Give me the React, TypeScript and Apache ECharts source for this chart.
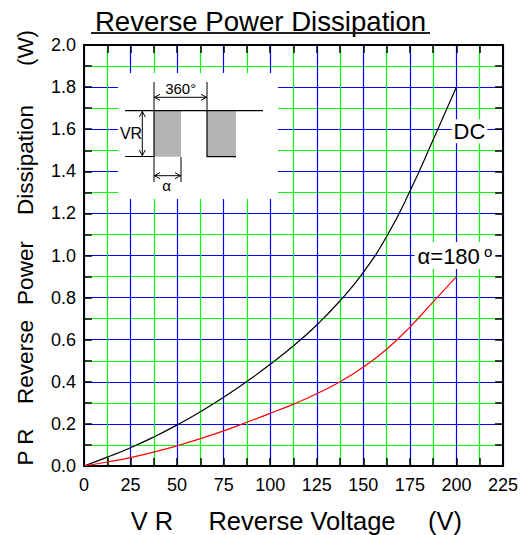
import React, { useEffect, useRef } from "react";
import * as echarts from "echarts";

const voltage = [0, 12.5, 25, 37.5, 50, 62.5, 75, 87.5, 100, 112.5, 125, 137.5, 150, 162.5, 175, 187.5, 200];
const dcPower = [0, 0.042, 0.087, 0.138, 0.195, 0.258, 0.327, 0.402, 0.483, 0.571, 0.67, 0.785, 0.92, 1.09, 1.305, 1.55, 1.8];
const halfPower = [0, 0.019, 0.04, 0.066, 0.096, 0.13, 0.167, 0.208, 0.25, 0.294, 0.343, 0.4, 0.47, 0.555, 0.66, 0.78, 0.9];
const yNameWords = ["P R", "Reverse", "Power", "Dissipation", "(W)"];
const xNameWords = ["V R", "Reverse Voltage", "(V)"];

const FONT = "'Liberation Sans', Arial, sans-serif";
const BLUE = "#0000ff";
const GREEN = "#00ff00";
const GRAY = "#b3b3b3";

export default function App() {
  const ref = useRef<HTMLDivElement>(null);
  useEffect(() => {
    if (!ref.current) return;
    const chart = echarts.init(ref.current, null, { renderer: "svg" });
    const yNameCenters = [447, 362, 273, 160, 48];
    const xNameCenters = [152, 302, 445];
    const L = (pts: number[][], w = 1.2) => ({
      type: "polyline",
      z: 12,
      shape: { points: pts },
      style: { stroke: "#000", lineWidth: w, fill: null },
    });
    const inset: any[] = [
      { type: "rect", z: 10, shape: { x: 118, y: 73, width: 160, height: 126 }, style: { fill: "#fff" } },
      L([[125, 110.7], [263, 110.7]]),
      { type: "rect", z: 11, shape: { x: 154, y: 110.7, width: 27, height: 46 }, style: { fill: GRAY } },
      { type: "rect", z: 11, shape: { x: 207, y: 110.7, width: 29, height: 46 }, style: { fill: GRAY } },
      L([[125, 156.5], [154, 156.5], [154, 110.7]]),
      L([[207, 110.7], [207, 156.7], [236, 156.7]]),
      L([[154, 82], [154, 110]], 1),
      L([[207, 82], [207, 110]], 1),
      L([[154, 97.3], [207, 97.3]], 1),
      L([[160, 94.3], [154.5, 97.3], [160, 100.3]], 1),
      L([[201, 94.3], [206.5, 97.3], [201, 100.3]], 1),
      L([[142.3, 111], [142.3, 156]], 1),
      L([[139.3, 117], [142.3, 111.5], [145.3, 117]], 1),
      L([[139.3, 150], [142.3, 155.5], [145.3, 150]], 1),
      L([[154, 157], [154, 182]], 1),
      L([[181, 157], [181, 182]], 1),
      L([[154, 175.7], [181, 175.7]], 1),
      L([[160, 172.7], [154.5, 175.7], [160, 178.7]], 1),
      L([[175, 172.7], [180.5, 175.7], [175, 178.7]], 1),
      { type: "text", z: 12, x: 180.7, y: 88, style: { text: "360°", fontSize: 15, fontFamily: FONT, fill: "#000", align: "center", verticalAlign: "middle" } },
      { type: "text", z: 12, x: 131, y: 133, style: { text: "VR", fontSize: 16, fontFamily: FONT, fill: "#000", align: "center", verticalAlign: "middle" } },
      { type: "text", z: 12, x: 166.7, y: 185, style: { text: "α", fontSize: 15, fontFamily: FONT, fill: "#000", align: "center", verticalAlign: "middle" } },
    ];
    const texts: any[] = [
      { type: "text", z: 12, x: 260.5, y: 21, style: { text: "Reverse Power Dissipation", fontSize: 27.6, fontFamily: FONT, fill: "#000", align: "center", verticalAlign: "middle" } },
      { type: "line", z: 12, shape: { x1: 91, y1: 33, x2: 430, y2: 33 }, style: { stroke: "#222", lineWidth: 2 } },
      ...yNameWords.map((w, i) => ({
        type: "text", z: 12, x: 25, y: yNameCenters[i], rotation: Math.PI / 2,
        style: { text: w, fontSize: 22.5, fontFamily: FONT, fill: "#000", align: "center", verticalAlign: "middle" },
      })),
      ...xNameWords.map((w, i) => ({
        type: "text", z: 12, x: xNameCenters[i], y: 521,
        style: { text: w, fontSize: 25.5, fontFamily: FONT, fill: "#000", align: "center", verticalAlign: "middle" },
      })),
    ];
    const tickCommon = {
      axisTick: { show: true, inside: true, length: 8, lineStyle: { color: "#000", width: 1.5 } },
      axisLine: { show: true, onZero: false, lineStyle: { color: "#000", width: 2 } },
    };
    const xLabel = (v: number) => (Math.abs(v / 25 - Math.round(v / 25)) < 1e-6 ? String(Math.round(v)) : "");
    const yLabel = (v: number) => (Math.round(v * 10) % 2 === 0 ? v.toFixed(1) : "");
    chart.setOption({
      animation: false,
      grid: { left: 84, right: 23, top: 45, bottom: 69 },
      xAxis: [
        {
          type: "value", min: 0, max: 225, interval: 12.5, position: "bottom",
          ...tickCommon,
          axisLabel: { fontSize: 18, color: "#000", fontFamily: FONT, margin: 10, formatter: xLabel, showMinLabel: true, showMaxLabel: true },
          splitLine: { show: true, lineStyle: { color: [BLUE, GREEN], width: 1.2 } },
        },
        {
          type: "value", min: 0, max: 225, interval: 12.5, position: "top",
          ...tickCommon,
          axisLabel: { show: false },
          splitLine: { show: false },
        },
      ],
      yAxis: [
        {
          type: "value", min: 0, max: 2, interval: 0.1, position: "left",
          ...tickCommon,
          axisLabel: { fontSize: 18, color: "#000", fontFamily: FONT, margin: 8, formatter: yLabel },
          splitLine: { show: true, lineStyle: { color: [BLUE, GREEN], width: 1.2 } },
        },
        {
          type: "value", min: 0, max: 2, interval: 0.1, position: "right",
          ...tickCommon,
          axisLabel: { show: false },
          splitLine: { show: false },
        },
      ],
      series: [
        {
          type: "line", name: "DC", smooth: 0.5, showSymbol: false, z: 5,
          data: voltage.map((v, i) => [v, dcPower[i]]),
          lineStyle: { color: "#000", width: 1.2 },
          markPoint: {
            symbol: "rect", symbolSize: 0, silent: true,
            data: [{ coord: [207, 1.59] }],
            label: {
              show: true, position: "inside", formatter: "DC", fontSize: 22, fontFamily: FONT, color: "#000",
              backgroundColor: "#fff", padding: [2, 2, 0, 2],
            },
          },
        },
        {
          type: "line", name: "α=180°", smooth: 0.5, showSymbol: false, z: 5,
          data: voltage.map((v, i) => [v, halfPower[i]]),
          lineStyle: { color: "#ff0000", width: 1.2 },
          markPoint: {
            symbol: "rect", symbolSize: 0, silent: true,
            data: [{ coord: [199.2, 1.0] }],
            label: {
              show: true, position: "inside", formatter: "{a|α=180}{s| o}", color: "#000",
              backgroundColor: "#fff", padding: [2, 3, 0, 3],
              rich: {
                a: { fontSize: 22, fontFamily: FONT, color: "#000" },
                s: { fontSize: 15, fontFamily: FONT, color: "#000", verticalAlign: "top", padding: [0, 0, 10, 0] },
              },
            },
          },
        },
      ],
      graphic: [...inset, ...texts],
    });
    return () => chart.dispose();
  }, []);
  return (
    <div
      ref={ref}
      style={{ position: "absolute", left: 0, top: 0, width: 526, height: 535, background: "#fff" }}
    />
  );
}
